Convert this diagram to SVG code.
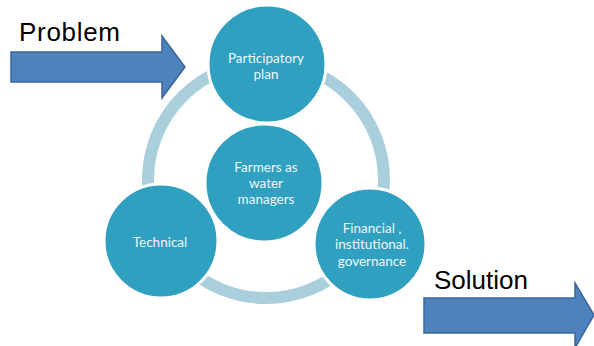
<svg xmlns="http://www.w3.org/2000/svg" width="594" height="346" viewBox="0 0 594 346">
<style>
.node{fill:#2fa0bf;stroke:#ffffff;stroke-width:3}
.nt{font-family:Lato,"Open Sans",sans-serif;font-size:13.5px;fill:#eef6fa;text-anchor:middle}
.lbl{font-family:"Liberation Sans",Arial,sans-serif;font-size:26px;fill:#000}
.arrow{fill:#4f81bd;stroke:#3a679c;stroke-width:1.5}
</style>
<rect width="594" height="346" fill="#fff"/>
<g id="connectors">
<circle cx="266" cy="180" r="118" fill="none" stroke="#a9cfdd" stroke-width="12"/>
</g>
<g id="problem">
<text class="lbl" x="19" y="41" textLength="101">Problem</text>
<path class="arrow" d="M11,52 L162,52 L162,36 L185,67 L162,98 L162,82 L11,82 Z"/>
</g>
<g id="solution">
<text class="lbl" x="434" y="289">Solution</text>
<path class="arrow" d="M424,298 L575,298 L575,283 L594,315 L575,348 L575,333 L424,333 Z"/>
</g>
<g id="participatory">
<circle class="node" cx="267" cy="64" r="59"/>
<text class="nt" x="266" y="63">Participatory</text>
<text class="nt" x="266" y="79">plan</text>
</g>
<g id="farmers">
<circle class="node" cx="264" cy="183" r="59"/>
<text class="nt" x="266" y="172">Farmers as</text>
<text class="nt" x="266" y="188">water</text>
<text class="nt" x="266" y="204">managers</text>
</g>
<g id="technical">
<circle class="node" cx="161" cy="241" r="57"/>
<text class="nt" x="160" y="247">Technical</text>
</g>
<g id="financial">
<circle class="node" cx="370" cy="244" r="56"/>
<text class="nt" x="372" y="233">Financial ,</text>
<text class="nt" x="372" y="249">institutional.</text>
<text class="nt" x="372" y="266">governance</text>
</g>
</svg>
